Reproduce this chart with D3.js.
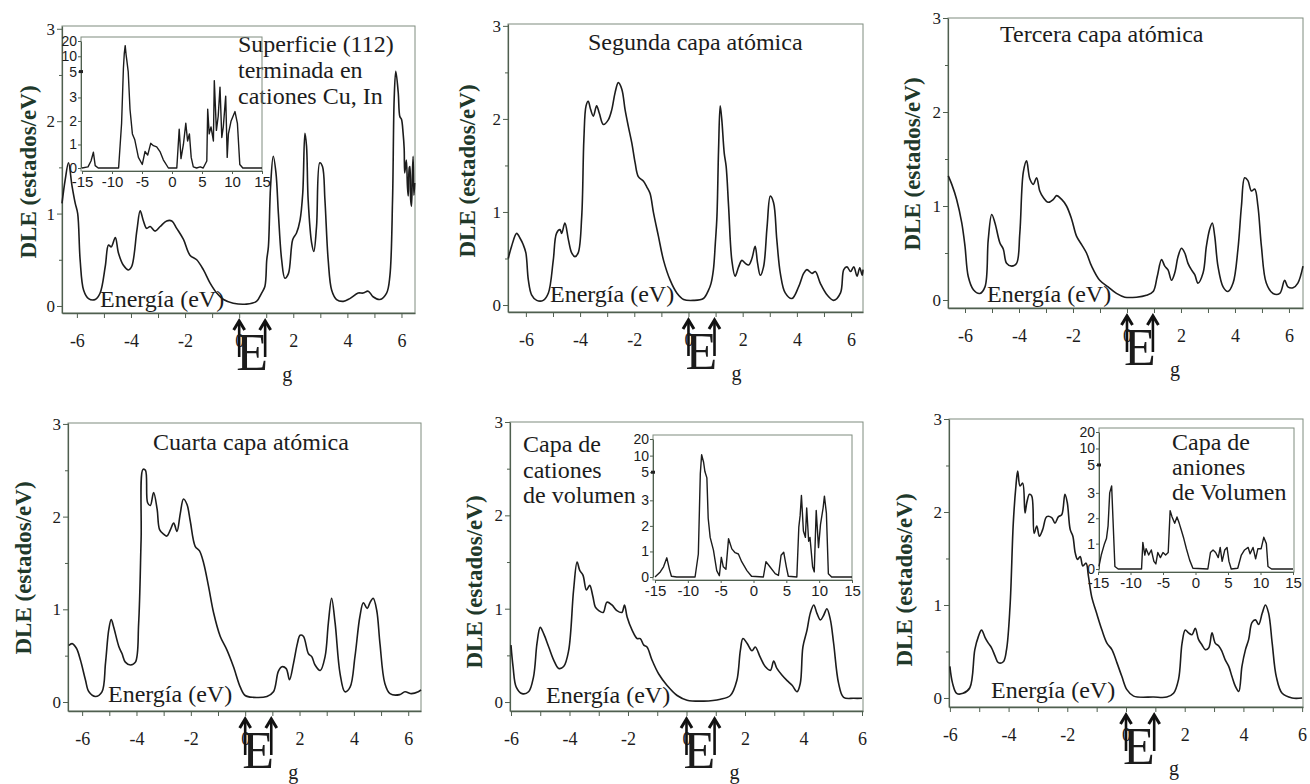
<!DOCTYPE html>
<html>
<head>
<meta charset="utf-8">
<script src="https://cdn.jsdelivr.net/npm/d3@7"></script>
<style>
  body { margin: 0; background: #fff; }
</style>
</head>
<body>
<div id="fig"></div>
<script>
// ---- data (energia eV, DLE estados/eV) ----
var xTicksMain = [-6, -5, -4, -3, -2, -1, 0, 1, 2, 3, 4, 5, 6]
var yTicksMain = [0, 1, 2, 3]
var yMinorMain = [0.5, 1.5, 2.5]
var insetXTicks = [-15, -10, -5, 0, 5, 10, 15]
var insetYTicks = [0, 1, 2, 3, 5, 10, 20]
var gapArrows = [0, 0.96]
var yLabel = "DLE (estados/eV)"
var xLabel = "Energía (eV)"

var dleSuperficie = [[-6.55,1.11],[-6.43,1.37],[-6.31,1.55],[-6.18,1.3],[-6.06,1.11],[-5.97,1.0],[-5.88,0.5],[-5.75,0.17],[-5.57,0.08],[-5.32,0.07],[-5.14,0.14],[-4.95,0.43],[-4.83,0.66],[-4.73,0.64],[-4.58,0.74],[-4.46,0.57],[-4.28,0.44],[-4.09,0.39],[-3.97,0.43],[-3.78,0.82],[-3.66,1.03],[-3.54,0.92],[-3.42,0.84],[-3.29,0.86],[-3.11,0.81],[-2.92,0.86],[-2.68,0.92],[-2.49,0.92],[-2.31,0.84],[-2.06,0.72],[-1.82,0.55],[-1.57,0.5],[-1.32,0.39],[-1.08,0.25],[-0.83,0.14],[-0.58,0.07],[-0.22,0.03],[0.27,0.02],[0.64,0.05],[0.83,0.14],[0.95,0.21],[1.02,0.5],[1.08,0.64],[1.16,1.29],[1.26,1.62],[1.36,1.44],[1.45,1.0],[1.57,0.5],[1.69,0.3],[1.82,0.35],[1.98,0.72],[2.12,0.79],[2.25,0.93],[2.35,1.22],[2.43,1.87],[2.49,1.73],[2.55,1.15],[2.68,0.68],[2.76,0.59],[2.86,0.86],[2.98,1.55],[3.08,1.51],[3.17,1.15],[3.29,0.5],[3.42,0.17],[3.6,0.07],[3.85,0.05],[4.09,0.08],[4.4,0.14],[4.58,0.14],[4.77,0.16],[4.95,0.1],[5.2,0.07],[5.45,0.14],[5.57,0.32],[5.67,1.15],[5.73,2.24],[5.79,2.54],[5.88,2.31],[5.94,2.05],[6.0,2.02],[6.06,1.87],[6.1,1.7],[6.12,1.44],[6.18,1.58],[6.22,1.3],[6.25,1.19],[6.29,1.5],[6.31,1.51],[6.34,1.15],[6.37,1.08],[6.4,1.4],[6.43,1.62],[6.46,1.2],[6.49,1.33]]

var dleSegunda = [[-6.65,0.5],[-6.53,0.63],[-6.34,0.77],[-6.22,0.72],[-6.1,0.65],[-6.0,0.56],[-5.91,0.27],[-5.79,0.11],[-5.6,0.05],[-5.36,0.05],[-5.17,0.13],[-4.99,0.48],[-4.87,0.77],[-4.74,0.81],[-4.68,0.77],[-4.56,0.88],[-4.43,0.7],[-4.31,0.56],[-4.19,0.52],[-4.07,0.56],[-3.94,0.95],[-3.86,1.78],[-3.78,2.14],[-3.7,2.19],[-3.61,2.1],[-3.51,2.03],[-3.39,2.14],[-3.29,2.06],[-3.14,1.94],[-2.96,1.99],[-2.83,2.1],[-2.71,2.28],[-2.59,2.39],[-2.46,2.32],[-2.34,2.1],[-2.22,1.92],[-2.09,1.74],[-1.97,1.53],[-1.85,1.38],[-1.66,1.33],[-1.54,1.27],[-1.42,1.2],[-1.29,0.99],[-1.11,0.74],[-0.92,0.48],[-0.68,0.27],[-0.43,0.13],[-0.18,0.06],[0.18,0.05],[0.55,0.07],[0.74,0.16],[0.83,0.23],[0.92,0.38],[0.99,0.66],[1.05,0.95],[1.11,1.67],[1.17,2.14],[1.23,1.99],[1.32,1.63],[1.39,1.49],[1.48,1.06],[1.6,0.48],[1.72,0.31],[1.85,0.41],[1.97,0.48],[2.09,0.45],[2.22,0.43],[2.34,0.5],[2.46,0.63],[2.55,0.45],[2.65,0.32],[2.77,0.41],[2.9,0.84],[3.02,1.17],[3.14,1.1],[3.26,0.7],[3.39,0.34],[3.57,0.13],[3.82,0.07],[4.07,0.2],[4.25,0.34],[4.37,0.38],[4.56,0.34],[4.68,0.36],[4.87,0.23],[5.11,0.11],[5.36,0.05],[5.61,0.13],[5.73,0.38],[5.85,0.41],[5.98,0.36],[6.1,0.41],[6.22,0.31],[6.32,0.4],[6.41,0.32],[6.44,0.38]]

var dleTercera = [[-6.62,1.32],[-6.49,1.23],[-6.31,1.07],[-6.12,0.82],[-6.0,0.57],[-5.88,0.25],[-5.69,0.11],[-5.45,0.07],[-5.26,0.14],[-5.14,0.64],[-5.01,0.91],[-4.89,0.82],[-4.71,0.61],[-4.58,0.54],[-4.46,0.39],[-4.27,0.36],[-4.09,0.39],[-3.97,0.71],[-3.84,1.36],[-3.72,1.48],[-3.6,1.29],[-3.47,1.23],[-3.35,1.3],[-3.23,1.16],[-3.1,1.09],[-2.92,1.04],[-2.73,1.07],[-2.61,1.11],[-2.42,1.07],[-2.24,1.0],[-2.05,0.86],[-1.87,0.68],[-1.68,0.59],[-1.5,0.5],[-1.31,0.36],[-1.01,0.21],[-0.7,0.14],[-0.39,0.07],[-0.08,0.03],[0.35,0.03],[0.72,0.05],[0.97,0.09],[1.12,0.25],[1.28,0.43],[1.4,0.36],[1.52,0.32],[1.65,0.21],[1.77,0.29],[1.89,0.46],[2.02,0.55],[2.14,0.5],[2.26,0.39],[2.39,0.32],[2.51,0.27],[2.63,0.18],[2.82,0.29],[2.94,0.57],[3.06,0.75],[3.16,0.82],[3.25,0.68],[3.37,0.36],[3.56,0.14],[3.74,0.09],[3.93,0.18],[4.11,0.54],[4.24,1.0],[4.36,1.3],[4.48,1.27],[4.61,1.16],[4.73,1.18],[4.85,1.0],[4.98,0.57],[5.16,0.18],[5.41,0.07],[5.66,0.07],[5.84,0.21],[5.96,0.14],[6.15,0.13],[6.33,0.18],[6.52,0.36]]

var dleCuarta = [[-6.49,0.61],[-6.37,0.63],[-6.21,0.58],[-6.06,0.45],[-5.88,0.24],[-5.75,0.11],[-5.51,0.06],[-5.27,0.11],[-5.14,0.42],[-5.02,0.78],[-4.93,0.89],[-4.84,0.81],[-4.65,0.6],[-4.53,0.52],[-4.41,0.43],[-4.22,0.4],[-4.04,0.43],[-3.92,0.85],[-3.83,1.75],[-3.76,2.51],[-3.67,2.5],[-3.59,2.15],[-3.49,2.12],[-3.37,2.26],[-3.24,2.08],[-3.15,1.86],[-3.0,1.81],[-2.88,1.79],[-2.75,1.86],[-2.63,1.93],[-2.51,1.84],[-2.39,2.03],[-2.27,2.19],[-2.14,2.13],[-2.02,1.95],[-1.84,1.68],[-1.68,1.63],[-1.53,1.5],[-1.35,1.25],[-1.16,0.96],[-0.92,0.71],[-0.67,0.56],[-0.43,0.38],[-0.18,0.16],[0.0,0.07],[0.31,0.05],[0.8,0.06],[1.04,0.11],[1.22,0.33],[1.35,0.38],[1.51,0.36],[1.63,0.24],[1.78,0.42],[1.92,0.63],[2.02,0.72],[2.14,0.71],[2.33,0.52],[2.45,0.49],[2.57,0.4],[2.76,0.34],[2.94,0.49],[3.06,0.85],[3.18,1.12],[3.31,0.85],[3.49,0.31],[3.67,0.11],[3.86,0.16],[4.04,0.49],[4.22,0.92],[4.35,1.07],[4.49,1.01],[4.59,1.07],[4.71,1.12],[4.84,0.99],[4.96,0.63],[5.14,0.2],[5.33,0.09],[5.69,0.08],[5.88,0.11],[6.12,0.09],[6.37,0.11],[6.47,0.13]]

var dleCationesVol = [[-6.0,0.61],[-5.93,0.38],[-5.82,0.16],[-5.62,0.09],[-5.4,0.11],[-5.23,0.27],[-5.11,0.63],[-5.0,0.8],[-4.88,0.73],[-4.71,0.59],[-4.54,0.45],[-4.37,0.36],[-4.2,0.38],[-4.03,0.55],[-3.86,1.2],[-3.74,1.5],[-3.65,1.41],[-3.54,1.36],[-3.42,1.2],[-3.31,1.25],[-3.2,1.13],[-3.12,1.02],[-3.0,0.98],[-2.85,0.96],[-2.72,1.07],[-2.55,1.04],[-2.38,0.98],[-2.21,0.96],[-2.12,1.04],[-2.03,0.91],[-1.86,0.77],[-1.69,0.68],[-1.58,0.68],[-1.46,0.61],[-1.35,0.59],[-1.18,0.45],[-0.95,0.3],[-0.67,0.18],[-0.32,0.07],[0.02,0.02],[0.59,0.01],[1.16,0.03],[1.5,0.07],[1.72,0.23],[1.84,0.55],[1.93,0.68],[2.07,0.63],[2.24,0.55],[2.35,0.59],[2.52,0.48],[2.69,0.38],[2.87,0.34],[2.98,0.44],[3.09,0.36],[3.26,0.29],[3.44,0.23],[3.61,0.18],[3.78,0.11],[3.89,0.2],[3.98,0.59],[4.12,0.77],[4.23,0.95],[4.35,1.04],[4.46,0.95],[4.58,0.88],[4.69,0.93],[4.8,1.0],[4.92,0.88],[5.03,0.63],[5.2,0.2],[5.37,0.05],[5.72,0.04],[6.0,0.04]]

var dleAnionesVol = [[-6.0,0.34],[-5.91,0.16],[-5.77,0.05],[-5.55,0.05],[-5.32,0.11],[-5.15,0.52],[-5.03,0.66],[-4.92,0.73],[-4.8,0.65],[-4.69,0.59],[-4.58,0.54],[-4.46,0.45],[-4.35,0.38],[-4.18,0.39],[-4.07,0.52],[-3.95,0.99],[-3.84,1.88],[-3.75,2.28],[-3.69,2.44],[-3.61,2.28],[-3.52,2.31],[-3.44,1.99],[-3.38,2.1],[-3.29,2.19],[-3.21,2.17],[-3.13,1.77],[-3.04,1.85],[-2.95,1.74],[-2.84,1.81],[-2.7,1.95],[-2.53,1.94],[-2.42,1.88],[-2.3,1.95],[-2.19,1.97],[-2.08,2.19],[-2.0,2.1],[-1.9,1.81],[-1.81,1.74],[-1.73,1.56],[-1.65,1.49],[-1.56,1.52],[-1.47,1.42],[-1.36,1.45],[-1.28,1.31],[-1.17,1.09],[-1.0,0.91],[-0.82,0.73],[-0.65,0.59],[-0.48,0.52],[-0.31,0.38],[-0.14,0.23],[0.03,0.09],[0.26,0.02],[0.94,0.01],[1.39,0.01],[1.62,0.05],[1.79,0.2],[1.91,0.59],[2.02,0.73],[2.13,0.7],[2.25,0.68],[2.36,0.75],[2.47,0.63],[2.59,0.57],[2.7,0.52],[2.82,0.54],[2.93,0.7],[3.04,0.59],[3.16,0.56],[3.27,0.5],[3.38,0.41],[3.5,0.34],[3.61,0.23],[3.72,0.13],[3.84,0.07],[3.95,0.34],[4.07,0.52],[4.18,0.63],[4.29,0.81],[4.41,0.84],[4.52,0.79],[4.64,0.91],[4.75,1.0],[4.86,0.91],[4.98,0.59],[5.12,0.23],[5.32,0.05],[5.66,0.0],[6.0,0.0]]

// insets: wide energy range, broken DLE axis
var insetSuperficie = [[-15,0],[-14.0,0.05],[-13.5,0.3],[-13.1,0.67],[-12.8,0.1],[-12.3,0],[-8.9,0],[-8.4,1.9],[-8.1,6],[-7.95,12],[-7.8,17],[-7.65,11],[-7.55,9],[-7.3,5],[-7.0,2.5],[-6.6,1.45],[-6.2,1.2],[-5.6,0.45],[-4.95,0.15],[-4.5,0.7],[-4.05,0.55],[-3.55,1.05],[-3.1,0.95],[-2.55,0.9],[-2.0,0.7],[-1.45,0.35],[-0.6,0.0],[0.8,0],[1.2,1.65],[1.5,0.4],[1.9,1.0],[2.3,1.9],[2.6,1.15],[2.9,1.45],[3.2,0.45],[3.55,0.05],[4.1,0],[4.7,0.05],[5.2,0.0],[5.8,0.3],[5.95,2.5],[6.2,1.45],[6.5,1.75],[6.9,1.15],[7.05,4.3],[7.4,1.6],[7.7,2.2],[8.0,3.8],[8.3,1.3],[8.55,1.75],[8.95,3.1],[9.2,0.45],[9.4,1.45],[9.85,2.0],[10.5,2.4],[10.9,1.9],[11.3,0.15],[11.8,0],[15,0]]

var insetCationesVol = [[-15,0],[-14.2,0.2],[-13.7,0.4],[-13.2,0.75],[-12.8,0.3],[-12.5,0.03],[-11.7,0],[-8.9,0],[-8.4,0.9],[-8.1,4.9],[-7.9,10.5],[-7.6,8],[-7.4,5.2],[-7.1,4.6],[-6.9,2.3],[-6.6,1.55],[-6.1,1.05],[-5.6,0.25],[-5.2,0.05],[-4.9,0.77],[-4.6,0.4],[-4.2,0.3],[-3.8,1.5],[-3.3,1.1],[-2.8,0.95],[-2.3,0.9],[-1.8,0.6],[-1.0,0.25],[-0.3,0.03],[1.5,0],[1.9,0.6],[2.5,0.4],[3.3,0.13],[3.8,0.06],[4.2,0.85],[4.6,0.97],[5.0,0.4],[5.3,0.03],[6.6,0],[6.9,1.95],[7.1,2.4],[7.3,3.35],[7.6,1.8],[7.9,1.55],[8.1,2.7],[8.4,1.4],[8.6,1.55],[9.0,0.4],[9.25,0.2],[9.55,2.6],[9.9,1.15],[10.2,2.05],[10.6,2.7],[10.8,3.3],[11.1,2.5],[11.4,0.13],[11.9,0],[15,0]]

var insetAnionesVol = [[-14.85,0.1],[-14.5,0.55],[-14.0,1.0],[-13.7,1.2],[-13.45,1.7],[-13.2,3.0],[-12.9,3.5],[-12.7,2.0],[-12.4,0.1],[-11.9,0],[-8.3,0],[-8.1,1.05],[-7.8,0.55],[-7.6,0.8],[-7.2,0.55],[-6.8,0.75],[-6.4,0.3],[-6.1,0.2],[-5.8,0.65],[-5.4,0.45],[-5.0,0.65],[-4.6,0.55],[-4.2,0.65],[-3.9,2.3],[-3.6,2.05],[-3.2,1.8],[-2.85,2.05],[-2.5,1.8],[-2.2,1.55],[-1.8,1.2],[-1.4,0.8],[-0.9,0.35],[-0.4,0.03],[1.9,0],[2.3,0.65],[2.7,0.75],[3.1,0.65],[3.5,0.45],[3.8,0.85],[4.1,0.3],[4.5,0.75],[4.85,0.85],[5.15,0.3],[5.5,0],[6.5,0.03],[7.05,0.55],[7.55,0.75],[8.1,0.85],[8.4,0.6],[8.85,0.85],[9.25,0.4],[9.6,0.8],[10.1,0.8],[10.5,1.25],[10.9,1.0],[11.15,0.1],[11.7,0],[15,0]]

var tituloSuperficie = ["Superficie (112)", "terminada en", "cationes Cu, In"]
var tituloSegunda = ["Segunda capa atómica"]
var tituloTercera = ["Tercera capa atómica"]
var tituloCuarta = ["Cuarta capa atómica"]
var tituloCationes = ["Capa de", "cationes", "de volumen"]
var tituloAniones = ["Capa de", "aniones", "de Volumen"]

// ---- layout ----
var panels = [
    { l: 62, t: 26, r: 415, b: 313, xDom: [-6.55, 6.5], yDom: [-0.076, 3.03], data: dleSuperficie,
      title: tituloSuperficie, tx: 238, ty: 52, tdy: 26, ex: 100, ey: 307, lx: 28, ly: 172,
      inset: { l: 81, t: 37, r: 262, b: 171, x0: 82, x1: 262, data: insetSuperficie } },
    { l: 508, t: 24, r: 863, b: 312, xDom: [-6.66, 6.44], yDom: [-0.075, 3.02], data: dleSegunda,
      title: tituloSegunda, tx: 588, ty: 50, tdy: 26, ex: 550, ey: 302, lx: 467, ly: 171 },
    { l: 948, t: 18, r: 1303, b: 308, xDom: [-6.63, 6.52], yDom: [-0.085, 3.0], data: dleTercera,
      title: tituloTercera, tx: 1000, ty: 42, tdy: 26, ex: 987, ey: 302, lx: 912, ly: 164 },
    { l: 68, t: 423, r: 421, b: 711, xDom: [-6.52, 6.47], yDom: [-0.097, 3.01], data: dleCuarta,
      title: tituloCuarta, tx: 153, ty: 450, tdy: 26, ex: 108, ey: 702, lx: 23, ly: 568 },
    { l: 510, t: 422, r: 863, b: 711, xDom: [-6.034, 6.034], yDom: [-0.096, 3.0], data: dleCationesVol,
      title: tituloCationes, tx: 523, ty: 452, tdy: 25.5, ex: 546, ey: 703, lx: 474, ly: 582,
      inset: { l: 653, t: 435, r: 852, b: 580, x0: 655, x1: 852, data: insetCationesVol } },
    { l: 949, t: 419, r: 1303, b: 707, xDom: [-6.03, 6.03], yDom: [-0.097, 3.0], data: dleAnionesVol,
      title: tituloAniones, tx: 1172, ty: 450, tdy: 25, ex: 991, ey: 698, lx: 904, ly: 580,
      inset: { l: 1099, t: 428, r: 1294, b: 572, x0: 1098, x1: 1293, data: insetAnionesVol } }
]

var serif = "'Liberation Serif', 'Times New Roman', Times, serif",
    sans = "'Liberation Sans', Arial, sans-serif"
var ink = "#1c1c1c",
    frameCol = "#7f8c7f",
    axisCol = "#4f5f4f"

var svg = d3.select("#fig")
    .append("svg")
    .attr("width", 1310)
    .attr("height", 784)
    .style("font-family", serif)

panels.forEach(function (p) {
    var x = d3.scaleLinear().domain(p.xDom).range([p.l, p.r]),
        y = d3.scaleLinear().domain(p.yDom).range([p.b, p.t])

    var g = svg.append("g")

    g.append("rect")
        .attr("x", p.l).attr("y", p.t)
        .attr("width", p.r - p.l).attr("height", p.b - p.t)
        .attr("fill", "none").attr("stroke", frameCol).attr("stroke-width", 1)

    // bottom axis
    var ax = g.append("g")
        .attr("transform", "translate(0," + p.b + ")")
        .call(d3.axisBottom(x).tickValues(xTicksMain).tickSize(5).tickSizeOuter(0).tickPadding(16)
            .tickFormat(function (d) { return d % 2 === 0 ? String(d) : "" }))
        .attr("font-family", serif)
    ax.select(".domain").attr("stroke", axisCol).attr("stroke-width", 1.3)
    ax.selectAll(".tick line").attr("stroke", axisCol)
    ax.selectAll("text").attr("font-size", 18).attr("fill", ink)

    // left axis
    var ay = g.append("g")
        .attr("transform", "translate(" + p.l + ",0)")
        .call(d3.axisLeft(y).tickValues(yTicksMain).tickSize(5).tickSizeOuter(0).tickPadding(2)
            .tickFormat(function (d) { return String(d) }))
        .attr("font-family", serif)
    ay.select(".domain").attr("stroke", axisCol).attr("stroke-width", 1.2)
    ay.selectAll(".tick line").attr("stroke", axisCol)
    ay.selectAll("text").attr("font-size", 17).attr("fill", ink)
    var aym = g.append("g")
        .attr("transform", "translate(" + p.l + ",0)")
        .call(d3.axisLeft(y).tickValues(yMinorMain).tickSize(3).tickFormat(""))
    aym.select(".domain").remove()
    aym.selectAll(".tick line").attr("stroke", axisCol)

    // curve
    var line = d3.line()
        .x(function (d) { return x(d[0]) })
        .y(function (d) { return y(d[1]) })
        .curve(d3.curveCatmullRom.alpha(0.5))
    g.append("path")
        .datum(p.data)
        .attr("d", line)
        .attr("fill", "none").attr("stroke", ink).attr("stroke-width", 1.6)
        .attr("stroke-linejoin", "round")

    // texts
    g.append("text")
        .attr("transform", "translate(" + p.lx + "," + p.ly + ") rotate(-90)")
        .attr("text-anchor", "middle").attr("dominant-baseline", "central")
        .attr("font-family", serif)
        .attr("font-size", 23).attr("font-weight", "bold").attr("fill", "#20382a")
        .text(yLabel)

    g.append("text")
        .attr("x", p.ex).attr("y", p.ey)
        .attr("font-family", serif)
        .attr("font-size", 24).attr("fill", ink)
        .text(xLabel)

    g.selectAll(".titulo")
        .data(p.title)
        .enter().append("text")
        .attr("class", "titulo")
        .attr("x", p.tx)
        .attr("y", function (d, i) { return p.ty + i * p.tdy })
        .attr("font-family", serif)
        .attr("font-size", 24).attr("fill", ink)
        .text(function (d) { return d })

    // band gap arrows + E_g
    gapArrows.forEach(function (e) {
        var ax0 = x(e), tip = p.b + 8
        g.append("line")
            .attr("x1", ax0).attr("x2", ax0).attr("y1", tip + 1).attr("y2", p.b + 44)
            .attr("stroke", "#111").attr("stroke-width", 2.6)
        g.append("path")
            .attr("d", "M" + (ax0 - 5.5) + "," + (tip + 9) + "L" + ax0 + "," + tip + "L" + (ax0 + 5.5) + "," + (tip + 9))
            .attr("fill", "none").attr("stroke", "#111").attr("stroke-width", 3)
            .attr("stroke-linejoin", "miter")
    })
    g.append("text")
        .attr("x", x(gapArrows[0]) - 3).attr("y", p.b + 57)
        .attr("font-family", serif)
        .attr("font-size", 52).attr("fill", ink)
        .text("E")
    g.append("text")
        .attr("x", x(gapArrows[0]) + 43).attr("y", p.b + 68)
        .attr("font-family", serif)
        .attr("font-size", 20).attr("fill", ink)
        .text("g")

    if (p.inset) drawInset(p.inset)
})

function drawInset(s) {
    var xi = d3.scaleLinear().domain([-15, 15]).range([s.x0, s.x1])
    var zeroY = s.b - 3, step = (zeroY - (s.t + 4)) / 5.4
    // broken axis: 0..3 linear, then compressed for 5, 10, 20
    var steps = [0, 1, 2, 3, 4.1, 4.75, 5.4]
    var yi = d3.scaleLinear().domain(insetYTicks)
        .range(steps.map(function (k) { return zeroY - k * step })).clamp(true)

    var g = svg.append("g")
    g.append("rect")
        .attr("x", s.l).attr("y", s.t)
        .attr("width", s.r - s.l).attr("height", s.b - s.t)
        .attr("fill", "none").attr("stroke", frameCol).attr("stroke-width", 1)

    var ax = g.append("g")
        .attr("transform", "translate(0," + s.b + ")")
        .call(d3.axisBottom(xi).tickValues(insetXTicks).tickSize(3).tickSizeOuter(0).tickPadding(2)
            .tickFormat(function (d) { return String(d) }))
        .attr("font-family", sans)
    ax.select(".domain").attr("stroke", axisCol)
    ax.selectAll(".tick line").attr("stroke", axisCol)
    ax.selectAll("text").attr("font-size", 15).attr("fill", ink)

    var ay = g.append("g")
        .attr("transform", "translate(" + s.l + ",0)")
        .call(d3.axisLeft(yi).tickValues(insetYTicks).tickSize(3).tickSizeOuter(0).tickPadding(1)
            .tickFormat(function (d) { return String(d) }))
        .attr("font-family", sans)
    ay.select(".domain").attr("stroke", axisCol)
    ay.selectAll(".tick line").attr("stroke", axisCol)
    ay.selectAll("text").attr("font-size", 14).attr("fill", ink)

    g.append("rect")
        .attr("x", s.l - 2).attr("y", yi(5) - 1.5)
        .attr("width", 4).attr("height", 3).attr("fill", "#222")

    var line = d3.line()
        .x(function (d) { return xi(d[0]) })
        .y(function (d) { return yi(d[1]) })
    g.append("path")
        .datum(s.data)
        .attr("d", line)
        .attr("fill", "none").attr("stroke", ink).attr("stroke-width", 1.4)
        .attr("stroke-linejoin", "round")
}
</script>
</body>
</html>
